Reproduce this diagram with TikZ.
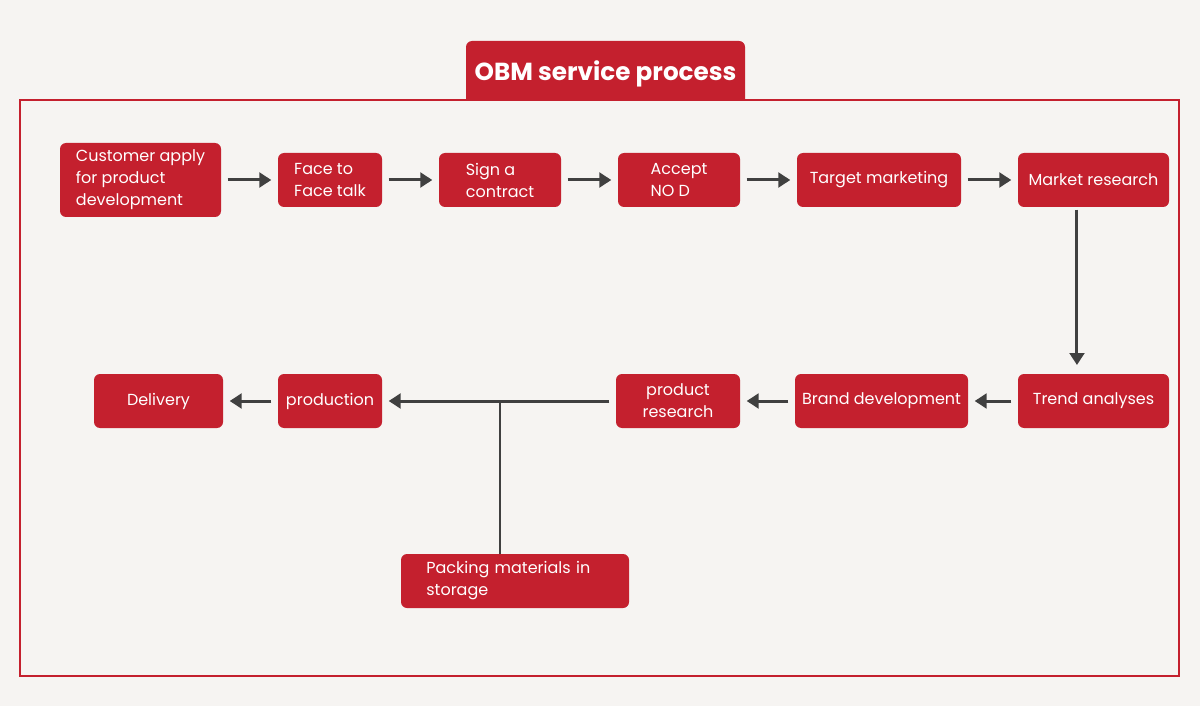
\documentclass[tikz,border=0pt]{standalone}
\usepackage{fontspec}
\setmainfont{Poppins}
\usepackage{xcolor}
\usetikzlibrary{arrows.meta,positioning,calc}
\definecolor{obmred}{RGB}{196,32,46}
\definecolor{obmbg}{RGB}{246,244,242}
\definecolor{obmgray}{RGB}{64,64,64}

\begin{document}
\begin{tikzpicture}[
    x=0.75pt, y=-0.75pt,
    node distance=42.75pt,
    box/.style={rectangle, fill=obmred, text=white, rounded corners=4.5pt, minimum height=40.5pt, inner sep=2pt, outer sep=0pt, align=center, font=\fontsize{12}{16.5}\selectfont},
    flow/.style={draw=obmgray, line width=2.25pt, -{Triangle[length=9pt,width=11pt]}, shorten <=5pt, shorten >=5pt},
    link/.style={draw=obmgray, line width=1.5pt}
]
    % page and frame
    \fill[obmbg] (0,0) rectangle (1200,706);
    \draw[obmred, line width=0.9pt] (20,100) rectangle (1179,676);
    \fill[obmred] (466,100) [rounded corners=4.5pt] -- (466,41) -- (745,41) [sharp corners] -- (745,100) -- cycle;
    \node[text=white, font=\fontsize{18.5}{22}\selectfont\bfseries] (title) at (605.5,74) {OBM service process};

    % top row
    \node[box, minimum width=120.75pt, minimum height=55.5pt, align=left] (apply) at (140.5,180) {Customer apply\\for product\\development};
    \node[box, minimum width=78pt, align=left, right=of apply] (talk) {Face to\\Face talk};
    \node[box, minimum width=91.5pt, align=left, right=of talk] (contract) {Sign a\\contract};
    \node[box, minimum width=91.5pt, align=left, right=of contract] (accept) {Accept\\NO D};
    \node[box, minimum width=123pt, right=of accept] (target) {Target marketing};
    \node[box, minimum width=113.25pt, right=of target] (market) {Market research};

    % bottom row
    \node[box, minimum width=113.25pt, below=125.25pt of market] (trend) {Trend analyses};
    \node[box, minimum width=129.75pt, left=37.5pt of trend] (brand) {Brand development};
    \node[box, minimum width=93pt, left=41.25pt of brand] (research) {product\\research};
    \node[box, minimum width=78pt, left=175.5pt of research] (production) {production};
    \node[box, minimum width=96.75pt, left=41.25pt of production] (delivery) {Delivery};
    \node[box, minimum width=171pt, align=left, text width=133pt] (packing) at (515,581) {Packing materials in\\storage};

    \draw[flow] (apply) -- (talk);
    \draw[flow] (talk) -- (contract);
    \draw[flow] (contract) -- (accept);
    \draw[flow] (accept) -- (target);
    \draw[flow] (target) -- (market);
    \draw[flow, shorten <=2pt, shorten >=6.75pt] ([xshift=-12.4pt]market.south) -- ([xshift=-12.4pt]trend.north);
    \draw[flow] (trend) -- (brand);
    \draw[flow] (brand) -- (research);
    \draw[flow] (research) -- (production);
    \draw[flow] (production) -- (delivery);

    \coordinate (join) at (500,401);
    \draw[link] (packing.north -| join) -- (join);
\end{tikzpicture}
\end{document}
